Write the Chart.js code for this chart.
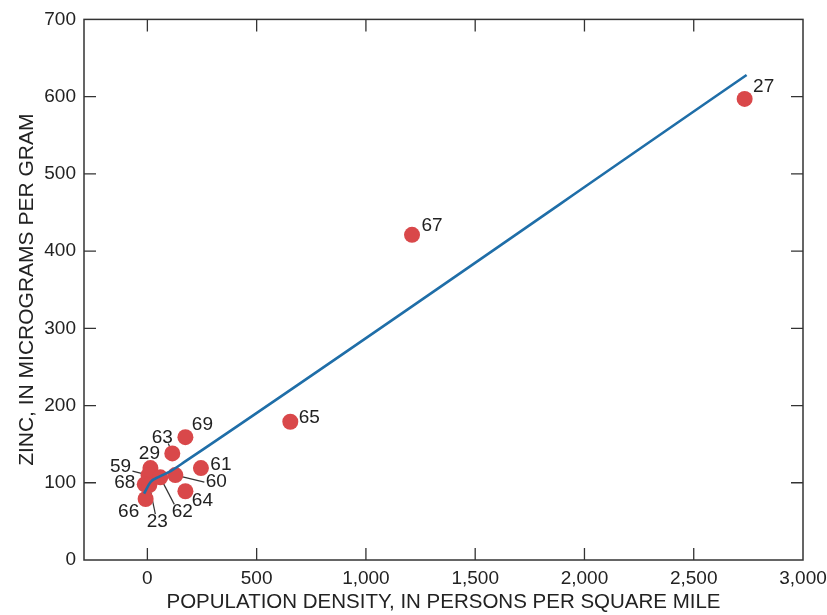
<!DOCTYPE html>
<html>
<head>
<meta charset="utf-8">
<script src="https://cdn.jsdelivr.net/npm/chart.js@4.4.1/dist/chart.umd.min.js"></script>
<style>
  html, body { margin: 0; padding: 0; background: #fff; }
  #wrap { width: 827px; height: 615px; }
</style>
</head>
<body>
<div id="wrap"><canvas id="chart" width="827" height="615"></canvas></div>
<script>
// site numbers, population density (persons/sq mi) and zinc (ug/g)
const siteIds = ['27', '67', '65', '69', '63', '29', '59', '68', '66', '23', '62', '64', '60', '61'];
const density = [2733, 1211, 654, 174, 114, 14, 5, -12, -8, 9, 59, 174, 128, 245];
const zinc = [597, 421, 179, 159, 138, 119, 110, 98, 79, 97, 107, 89, 110, 119];

// fitted curve
const fitDensity = [-15, 15, 55, 100, 175, 2742];
const fitZinc = [86, 101, 108, 114, 128, 628];

const xTicks = [0, 500, 1000, 1500, 2000, 2500, 3000];
const yTicks = [0, 100, 200, 300, 400, 500, 600, 700];

// label placement, pixels from the marker centre; lead = leader line start
const labelPos = {
  '27': { dx: 19, dy: -12 },
  '67': { dx: 20, dy: -9 },
  '65': { dx: 19, dy: -4 },
  '69': { dx: 17, dy: -12 },
  '63': { dx: -10, dy: -16, lead: [-4, -10] },
  '29': { dx: -1, dy: -14 },
  '59': { dx: -28, dy: -8, lead: [-16, -4] },
  '68': { dx: -20, dy: -2 },
  '66': { dx: -17, dy: 13 },
  '23': { dx: 8, dy: 37, lead: [6, 29] },
  '62': { dx: 22, dy: 34, lead: [14, 27] },
  '64': { dx: 17, dy: 9 },
  '60': { dx: 41, dy: 7, lead: [29, 7] },
  '61': { dx: 20, dy: -3 }
};

const FONT = "'Liberation Sans', Arial, sans-serif";
const INK = '#222';

const framePlugin = {
  id: 'frame',
  beforeDatasetsDraw(chart) {
    const { ctx } = chart;
    const meta = chart.getDatasetMeta(1);
    ctx.save();
    ctx.strokeStyle = '#333';
    ctx.lineWidth = 1.2;
    siteIds.forEach((id, i) => {
      const p = labelPos[id];
      if (!p.lead) return;
      const pt = meta.data[i];
      ctx.beginPath();
      ctx.moveTo(pt.x + p.lead[0], pt.y + p.lead[1]);
      ctx.lineTo(pt.x, pt.y);
      ctx.stroke();
    });
    ctx.restore();
  },
  afterDraw(chart) {
    const { ctx, chartArea: a, scales } = chart;
    ctx.save();
    ctx.strokeStyle = '#333';
    ctx.lineWidth = 1.5;
    ctx.strokeRect(a.left, a.top, a.right - a.left, a.bottom - a.top);
    // inward tick marks on all four sides
    const len = 12;
    ctx.lineWidth = 1.3;
    ctx.beginPath();
    xTicks.forEach(v => {
      const x = scales.x.getPixelForValue(v);
      if (x >= a.right - 1) return;
      ctx.moveTo(x, a.bottom); ctx.lineTo(x, a.bottom - len);
      ctx.moveTo(x, a.top); ctx.lineTo(x, a.top + len);
    });
    yTicks.forEach(v => {
      if (v === 0 || v === 700) return;
      const y = scales.y.getPixelForValue(v);
      ctx.moveTo(a.left, y); ctx.lineTo(a.left + len, y);
      ctx.moveTo(a.right, y); ctx.lineTo(a.right - len, y);
    });
    ctx.stroke();

    // site numbers
    const meta = chart.getDatasetMeta(1);
    ctx.fillStyle = INK;
    ctx.font = '19px ' + FONT;
    ctx.textAlign = 'center';
    ctx.textBaseline = 'middle';
    siteIds.forEach((id, i) => {
      const pt = meta.data[i];
      const p = labelPos[id];
      ctx.fillText(id, pt.x + p.dx, pt.y + p.dy);
    });
    ctx.restore();
  }
};

new Chart(document.getElementById('chart'), {
  type: 'scatter',
  data: {
    datasets: [
      {
        type: 'line',
        data: fitDensity.map((x, i) => ({ x: x, y: fitZinc[i] })),
        borderColor: '#1f6ea8',
        borderWidth: 2.6,
        pointRadius: 0,
        cubicInterpolationMode: 'monotone',
        fill: false,
        order: 0
      },
      {
        data: density.map((x, i) => ({ x: x, y: zinc[i] })),
        backgroundColor: '#d9484a',
        borderColor: '#d9484a',
        borderWidth: 0,
        pointRadius: 8,
        order: 1
      }
    ]
  },
  options: {
    responsive: false,
    animation: false,
    layout: { padding: { top: 16, right: 0, left: 0, bottom: 0 } },
    plugins: {
      legend: { display: false },
      tooltip: { enabled: false }
    },
    scales: {
      x: {
        type: 'linear',
        min: -290,
        max: 3000,
        afterBuildTicks: s => { s.ticks = xTicks.map(v => ({ value: v })); },
        afterFit: s => { s.height = 55; s.paddingLeft = 0; s.paddingRight = 24; },
        grid: { display: false, drawTicks: false },
        border: { display: false },
        ticks: {
          color: INK,
          padding: 7,
          maxRotation: 0,
          font: { family: FONT, size: 19 },
          callback: v => v.toLocaleString('en-US')
        },
        title: {
          display: true,
          text: 'POPULATION DENSITY, IN PERSONS PER SQUARE MILE',
          color: INK,
          padding: { top: 0, bottom: 0 },
          font: { family: FONT, size: 20.5 }
        }
      },
      y: {
        type: 'linear',
        min: 0,
        max: 700,
        afterBuildTicks: s => { s.ticks = yTicks.map(v => ({ value: v })); },
        afterFit: s => { s.width = 84; },
        grid: { display: false, drawTicks: false },
        border: { display: false },
        ticks: {
          color: INK,
          padding: 8,
          font: { family: FONT, size: 19 }
        },
        title: {
          display: true,
          text: 'ZINC, IN MICROGRAMS PER GRAM',
          color: INK,
          padding: { top: 15, bottom: 0 },
          font: { family: FONT, size: 21 }
        }
      }
    }
  },
  plugins: [framePlugin]
});
</script>
</body>
</html>
